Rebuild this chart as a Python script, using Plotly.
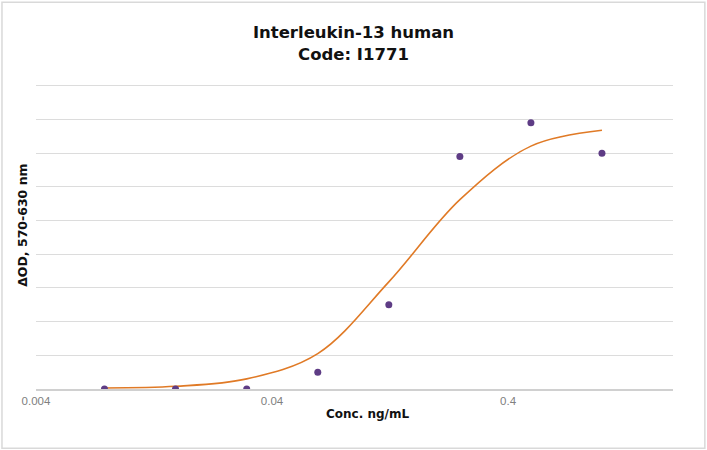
import plotly.graph_objects as go

# Concentrations (ng/mL) and measured ΔOD
conc = [0.0078, 0.0156, 0.03125, 0.0625, 0.125, 0.25, 0.5, 1.0]
od_measured = [0.0, 0.0, 0.0, 0.050, 0.25, 0.69, 0.79, 0.70]

# Fitted curve values read at the same concentrations
od_fit = [0.003, 0.008, 0.030, 0.105, 0.318, 0.562, 0.721, 0.768]

x_tick_vals = [0.004, 0.04, 0.4]
x_tick_text = ["0.004", "0.04", "0.4"]

fig = go.Figure()

# Fitted curve (smoothed line)
fig.add_trace(go.Scatter(
    x=conc, y=od_fit, mode="lines",
    line=dict(color="#E07A26", width=1.6, shape="spline", smoothing=1.0),
    hoverinfo="skip",
))

# Measured points
fig.add_trace(go.Scatter(
    x=conc, y=od_measured, mode="markers",
    marker=dict(color="#5E3C85", size=7),
))

fig.update_layout(
    width=707, height=450,
    margin=dict(l=36, r=34, t=84, b=61),
    paper_bgcolor="white", plot_bgcolor="white",
    showlegend=False,
    font=dict(family="DejaVu Sans", color="#111111"),
    title=dict(
        text="<b>Interleukin-13 human<br>Code: I1771</b>",
        x=0.5, xanchor="center", y=0.915, yanchor="top",
        font=dict(family="DejaVu Sans", size=16.5, color="#111111"),
    ),
    shapes=[dict(
        type="rect", xref="paper", yref="paper",
        x0=-0.0534, x1=1.050, y0=-0.194, y1=1.268,
        line=dict(color="#D9D9D9", width=1.5), fillcolor="rgba(0,0,0,0)",
    )],
    annotations=[
        dict(text="<b>Conc. ng/mL</b>", xref="paper", yref="paper",
             x=0.52, y=-0.083, xanchor="center", yanchor="middle", showarrow=False,
             font=dict(family="DejaVu Sans", size=12, color="#111111")),
        dict(text="<b>ΔOD, 570-630 nm</b>", xref="paper", yref="paper",
             x=-0.021, y=0.537, xanchor="center", yanchor="middle", showarrow=False,
             textangle=-90,
             font=dict(family="DejaVu Sans", size=12.5, color="#111111")),
    ],
)

fig.update_xaxes(
    type="log", range=[-2.398, 0.301],
    tickvals=x_tick_vals, ticktext=x_tick_text,
    tickfont=dict(family="Liberation Sans", size=11.5, color="#808080"),
    showgrid=False, zeroline=False,
    showline=True, linecolor="#D0D0D0", linewidth=1.5,
    ticks="", ticklabelstandoff=0,
)

fig.update_yaxes(
    range=[0, 0.9054], tickvals=[0.1, 0.2, 0.3, 0.4, 0.5, 0.6, 0.7, 0.8, 0.9],
    showticklabels=False, showgrid=True, gridcolor="#DCDCDC", gridwidth=1,
    zeroline=False, showline=False, ticks="",
)

# the browser adds a default 8px body margin; drop it so the chart sits at the top-left
fig.write_html("out.html", config={"displayModeBar": False},
               post_script="document.body.style.margin='0';")
